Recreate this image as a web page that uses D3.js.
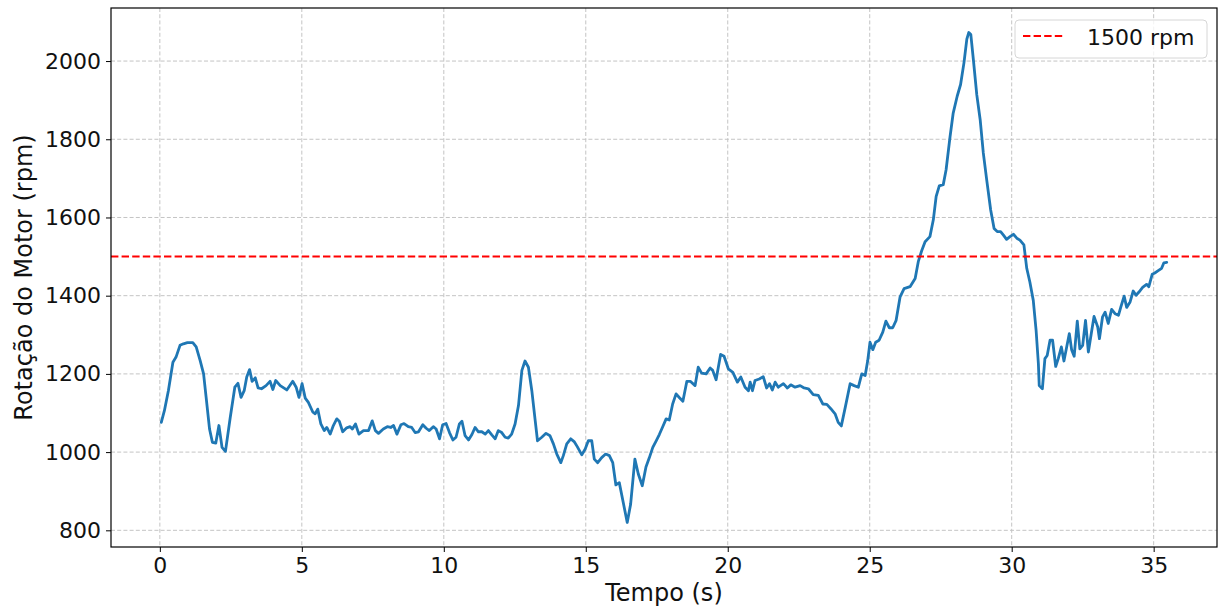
<!DOCTYPE html>
<html>
<head>
<meta charset="utf-8">
<script src="https://cdn.jsdelivr.net/npm/d3@7"></script>
<style>
  html, body { margin: 0; padding: 0; background: #fff; }
  svg { display: block; font-family: "DejaVu Sans", sans-serif; }
</style>
</head>
<body>
<svg id="chart" width="1219" height="612"></svg>
<script>
// Motor speed log: time (s) and rotation (rpm)
const tempo = [
  0.05, 0.16, 0.30, 0.46, 0.57, 0.71, 0.83, 0.97, 1.16, 1.28, 1.42, 1.54, 1.63, 1.75, 1.85, 1.97,
  2.08, 2.19, 2.31, 2.48, 2.64, 2.75, 2.86, 2.97, 3.06, 3.16, 3.25, 3.36, 3.46, 3.58, 3.74, 3.88,
  3.98, 4.08, 4.24, 4.47, 4.68, 4.80, 4.90, 5.01, 5.12, 5.23, 5.39, 5.47, 5.56, 5.67, 5.79, 5.88,
  6.00, 6.11, 6.23, 6.32, 6.44, 6.58, 6.70, 6.78, 6.89, 7.01, 7.17, 7.35, 7.48, 7.59, 7.70, 7.87,
  8.01, 8.13, 8.23, 8.35, 8.49, 8.60, 8.75, 8.87, 8.99, 9.11, 9.26, 9.38, 9.49,
  9.63, 9.73, 9.85, 9.96, 10.08, 10.20, 10.32, 10.43, 10.55, 10.64, 10.75, 10.87, 10.99, 11.10,
  11.22, 11.34, 11.46, 11.57, 11.69, 11.81, 11.92, 12.04, 12.16, 12.27, 12.39, 12.51, 12.63,
  12.75, 12.86, 12.98, 13.10, 13.22, 13.30, 13.45, 13.60, 13.74, 13.86, 13.98, 14.12, 14.21,
  14.33, 14.47, 14.59, 14.70, 14.86, 14.98, 15.09, 15.21, 15.30, 15.42, 15.56, 15.70, 15.83,
  15.95, 16.06, 16.18, 16.32, 16.46, 16.58, 16.73, 16.85, 16.99, 17.12, 17.24, 17.36, 17.48,
  17.59, 17.71, 17.83, 17.94, 18.06, 18.18, 18.30, 18.42, 18.56, 18.68, 18.85, 18.96, 19.08,
  19.24, 19.38, 19.47, 19.59, 19.75, 19.87, 20.02, 20.18, 20.34, 20.46,
  20.61, 20.73, 20.79, 20.87, 20.96, 21.11, 21.25, 21.37, 21.47, 21.57, 21.67, 21.78, 21.96,
  22.10, 22.22, 22.37, 22.55, 22.69, 22.84, 23.01, 23.19, 23.35, 23.49, 23.63, 23.78, 23.89,
  24.00, 24.14, 24.31, 24.45, 24.60, 24.72, 24.84, 24.93, 25.01, 25.11, 25.21, 25.33, 25.46,
  25.57, 25.69, 25.81, 25.93,
  26.07, 26.21, 26.42, 26.60, 26.71, 26.83, 26.95, 27.12, 27.24, 27.34, 27.45, 27.59, 27.69,
  27.83, 27.94, 28.08, 28.20, 28.32, 28.42, 28.49, 28.56, 28.65, 28.77, 28.89, 29.00, 29.12,
  29.26, 29.38, 29.49, 29.61, 29.71, 29.82, 29.94, 30.06, 30.18, 30.29, 30.43,
  30.53, 30.64, 30.76, 30.86, 30.94, 30.97, 31.08, 31.17, 31.25, 31.35, 31.44, 31.55, 31.64,
  31.75, 31.84, 31.94, 32.03, 32.11, 32.20, 32.31, 32.40, 32.50, 32.60, 32.70, 32.82, 32.90,
  33.03, 33.09, 33.20, 33.29, 33.40, 33.52, 33.64, 33.76, 33.84, 33.96, 34.05, 34.17, 34.28,
  34.38, 34.49, 34.61, 34.75, 34.83, 34.95, 35.04, 35.16, 35.28, 35.36, 35.46
];
const rotacao = [
  1076, 1106, 1157, 1230, 1243, 1273, 1277, 1280, 1280, 1269, 1234, 1200, 1140, 1059, 1025, 1023,
  1068, 1012, 1002, 1089, 1166, 1176, 1140, 1157, 1192, 1211, 1181, 1190, 1164, 1162, 1170, 1181,
  1160, 1183, 1170, 1159, 1181, 1166, 1140, 1175, 1138, 1127, 1102, 1098, 1110, 1072, 1055, 1063,
  1046, 1068, 1085, 1079, 1052, 1062, 1065, 1059, 1072, 1046, 1055, 1055, 1080, 1055, 1048, 1059,
  1065, 1063, 1068, 1046, 1070, 1073, 1065, 1063, 1050, 1052, 1070, 1061, 1055,
  1065, 1059, 1034, 1070, 1073, 1050, 1031, 1038, 1072, 1079, 1042, 1031, 1045, 1063,
  1052, 1052, 1046, 1055, 1044, 1034, 1055, 1050, 1038, 1036, 1046, 1072, 1119,
  1209, 1233, 1217, 1157, 1080, 1029, 1038, 1048, 1042, 1021, 995, 973, 991,
  1021, 1034, 1027, 1014, 993, 1008, 1029, 1029, 982, 973, 986, 995, 991,
  973, 916, 922, 871, 820, 867, 982, 944, 914, 962, 986, 1012, 1029,
  1045, 1065, 1085, 1082, 1123, 1149, 1139, 1130, 1181, 1181, 1170, 1217, 1202,
  1200, 1215, 1209, 1185, 1250, 1245, 1213, 1204, 1179, 1192,
  1166, 1157, 1179, 1157, 1183, 1187, 1193, 1164, 1175, 1159, 1179, 1166, 1175,
  1164, 1172, 1166, 1170, 1164, 1162, 1147, 1145, 1123, 1122, 1111, 1098, 1076,
  1067, 1115, 1175, 1170, 1166, 1200, 1196, 1234, 1281, 1262, 1281, 1286, 1307,
  1335, 1318, 1318, 1337,
  1397, 1418, 1423, 1444, 1487, 1515, 1538, 1551, 1594, 1654, 1681, 1684, 1722,
  1807, 1867, 1910, 1940, 1996, 2056, 2073, 2068, 2004, 1914, 1850, 1765, 1696,
  1619, 1572, 1564, 1564, 1555, 1544, 1551, 1557, 1547, 1542, 1530,
  1470, 1435, 1388, 1311, 1226, 1170, 1162, 1239, 1247, 1286, 1286, 1219, 1239,
  1269, 1233, 1270, 1303, 1262, 1245, 1335, 1264, 1273, 1337, 1256, 1311, 1347,
  1320, 1290, 1346, 1358, 1329, 1365, 1354, 1350, 1370, 1399, 1370, 1384, 1412,
  1401, 1410, 1421, 1429, 1423, 1455, 1458, 1464, 1470, 1484, 1485
];
const referencia = 1500;
const legendaTexto = "1500 rpm";
const xTicks = [0, 5, 10, 15, 20, 25, 30, 35];
const yTicks = [800, 1000, 1200, 1400, 1600, 1800, 2000];
const xTitulo = "Tempo (s)";
const yTitulo = "Rotação do Motor (rpm)";

const svg = d3.select("#chart");
const box = { left: 111, right: 1217, top: 8, bottom: 547 };
const W = box.right - box.left, H = box.bottom - box.top;

// matplotlib-like 5% padding around the data extent
const xExt = d3.extent(tempo), yExt = d3.extent(rotacao);
const xPad = (xExt[1] - xExt[0]) * 0.05, yPad = (yExt[1] - yExt[0]) * 0.05;
const x = d3.scaleLinear().domain([xExt[0] - xPad, xExt[1] + xPad]).range([0, W]);
const y = d3.scaleLinear().domain([yExt[0] - yPad, yExt[1] + yPad]).range([H, 0]);

const g = svg.append("g").attr("transform", `translate(${box.left},${box.top})`);

g.append("clipPath").attr("id", "plotClip")
  .append("rect").attr("width", W).attr("height", H);

// dashed grid
const grid = g.append("g").attr("stroke", "#c4c4c4").attr("stroke-width", 1)
  .attr("stroke-dasharray", "4,2.2");
grid.selectAll("line.gx").data(xTicks).join("line")
  .attr("x1", d => x(d)).attr("x2", d => x(d)).attr("y1", 0).attr("y2", H);
grid.selectAll("line.gy").data(yTicks).join("line")
  .attr("x1", 0).attr("x2", W).attr("y1", d => y(d)).attr("y2", d => y(d));

const serie = tempo.map((t, i) => [t, rotacao[i]]);
const plot = g.append("g").attr("clip-path", "url(#plotClip)");

plot.append("path")
  .datum(serie)
  .attr("fill", "none")
  .attr("stroke", "#1f77b4")
  .attr("stroke-width", 2.8)
  .attr("stroke-linejoin", "round")
  .attr("stroke-linecap", "round")
  .attr("d", d3.line().x(d => x(d[0])).y(d => y(d[1])));

plot.append("line")
  .attr("x1", 0).attr("x2", W)
  .attr("y1", y(referencia)).attr("y2", y(referencia))
  .attr("stroke", "red").attr("stroke-width", 2)
  .attr("stroke-dasharray", "7.4,3.2");

// axes
const xAxis = g.append("g").attr("transform", `translate(0,${H})`)
  .call(d3.axisBottom(x).tickValues(xTicks).tickSize(5).tickPadding(5).tickFormat(d3.format("d")));
const yAxis = g.append("g")
  .call(d3.axisLeft(y).tickValues(yTicks).tickSize(5).tickPadding(5).tickFormat(d3.format("d")));
[xAxis, yAxis].forEach(a => {
  a.select(".domain").remove();
  a.selectAll(".tick line").attr("stroke", "#000").attr("stroke-width", 1);
  a.selectAll(".tick text").attr("fill", "#111").style("font-size", "22px")
    .style("font-family", "'DejaVu Sans', sans-serif");
});

g.append("rect").attr("width", W).attr("height", H)
  .attr("fill", "none").attr("stroke", "#000").attr("stroke-width", 1.2);

// axis titles
svg.append("text")
  .attr("x", box.left + W / 2).attr("y", 601)
  .attr("text-anchor", "middle").attr("fill", "#111")
  .style("font-size", "24px").text(xTitulo);
svg.append("text")
  .attr("transform", `translate(32,${box.top + H / 2}) rotate(-90)`)
  .attr("text-anchor", "middle").attr("fill", "#111")
  .style("font-size", "24px").text(yTitulo);

// legend
const leg = svg.append("g").attr("transform", "translate(1015,20)");
leg.append("rect").attr("width", 192).attr("height", 38).attr("rx", 4)
  .attr("fill", "rgba(255,255,255,0.8)").attr("stroke", "#d6d6d6").attr("stroke-width", 1);
leg.append("line").attr("x1", 8).attr("x2", 50).attr("y1", 16).attr("y2", 16)
  .attr("stroke", "red").attr("stroke-width", 2).attr("stroke-dasharray", "7.4,3.2");
leg.append("text").attr("x", 72).attr("y", 25).attr("fill", "#111")
  .style("font-size", "22px").text(legendaTexto);
</script>
</body>
</html>
